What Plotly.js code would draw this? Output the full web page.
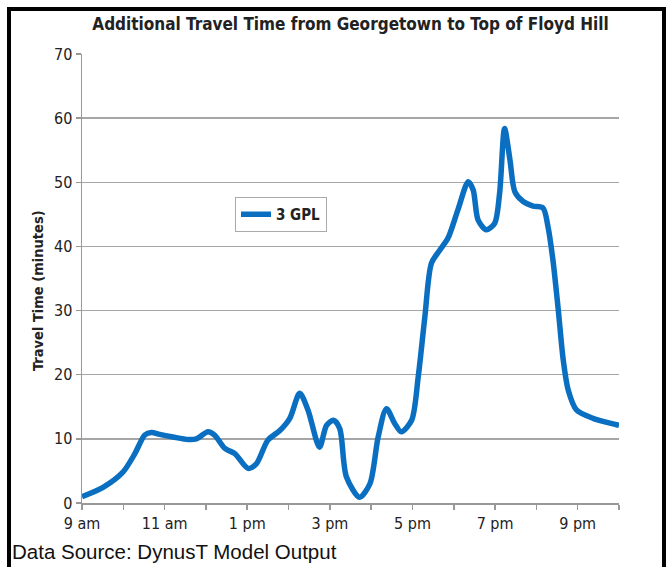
<!DOCTYPE html>
<html>
<head>
<meta charset="utf-8">
<script src="https://cdn.plot.ly/plotly-3.0.1.min.js"></script>
<style>html,body{margin:0;padding:0;background:#fff;}#chart{width:668px;height:567px;}</style>
</head>
<body>
<div id="chart"></div>
<script>
// Hour of day (decimal, 9 = 9 am, 22 = 10 pm)
const hours = [9.0, 9.5, 9.99, 10.28, 10.52, 10.68, 10.88, 11.2, 11.57, 11.77, 12.05, 12.21, 12.46, 12.7, 13.02, 13.22, 13.5, 13.79, 14.03, 14.27, 14.47, 14.75, 14.92, 15.09, 15.24, 15.4, 15.72, 15.97, 16.17, 16.37, 16.57, 16.73, 16.98, 17.14, 17.3, 17.46, 17.66, 17.86, 18.1, 18.35, 18.47, 18.59, 18.79, 18.99, 19.11, 19.23, 19.36, 19.48, 19.68, 19.92, 20.16, 20.28, 20.4, 20.53, 20.65, 20.77, 20.97, 21.37, 21.94, 22.0];
// Additional travel time (minutes), 3 GPL
const travelTime = [1.0, 2.4, 4.8, 7.7, 10.6, 11.0, 10.7, 10.3, 9.9, 10.0, 11.1, 10.6, 8.5, 7.7, 5.4, 6.1, 9.8, 11.3, 13.2, 17.1, 14.5, 8.7, 12.1, 12.9, 11.6, 4.1, 0.9, 3.0, 10.3, 14.7, 12.4, 11.1, 12.9, 19.7, 29.0, 37.4, 39.4, 41.3, 45.7, 50.1, 48.8, 44.1, 42.6, 43.6, 48.3, 58.4, 53.5, 48.5, 47.0, 46.3, 46.0, 43.1, 37.9, 30.1, 22.3, 17.6, 14.5, 13.2, 12.2, 12.1];
const tickHours = [9, 10, 11, 12, 13, 14, 15, 16, 17, 18, 19, 20, 21, 22];
const tickLabels = ['9 am', '', '11 am', '', '1 pm', '', '3 pm', '', '5 pm', '', '7 pm', '', '9 pm', ''];
const yTicks = [0, 10, 20, 30, 40, 50, 60, 70];
const seriesName = '3 GPL';

const narrow = '"DejaVu Sans Condensed", "Liberation Sans Narrow", sans-serif';

const trace = {
  x: hours, y: travelTime, type: 'scatter', mode: 'lines', name: seriesName,
  line: {color: '#0b6fc1', width: 5.5, shape: 'spline', smoothing: 0.8}
};

const L = 82, R = 49, T = 54, B = 64;
const pw = 668 - L - R, ph = 567 - T - B;
function px(x) { return (x - L) / pw; }
function py(y) { return (567 - B - y) / ph; }

const layout = {
  width: 668, height: 567,
  margin: {l: L, r: R, t: T, b: B, pad: 0},
  paper_bgcolor: '#ffffff', plot_bgcolor: '#ffffff',
  title: {
    text: '<b>Additional Travel Time from Georgetown to Top of Floyd Hill</b>',
    font: {family: narrow, size: 17, color: '#222'},
    xref: 'paper', x: 0.5, xanchor: 'center',
    yref: 'container', y: 1 - 24 / 567, yanchor: 'middle'
  },
  xaxis: {
    range: [9, 22], tickmode: 'array', tickvals: tickHours, ticktext: tickLabels,
    ticks: 'outside', ticklen: 5, tickwidth: 1.5, tickcolor: '#999',
    showline: true, linecolor: '#999', linewidth: 1.5, showgrid: false, zeroline: false,
    tickfont: {family: narrow, size: 16, color: '#222'}, fixedrange: true
  },
  yaxis: {
    range: [0, 70], tickmode: 'array', tickvals: yTicks,
    ticks: 'outside', ticklen: 5, tickwidth: 1.5, tickcolor: '#999',
    showline: true, linecolor: '#999', linewidth: 1.5,
    showgrid: true, gridcolor: '#a6a6a6', gridwidth: 1.5, zeroline: false,
    tickfont: {family: narrow, size: 16, color: '#222'}, fixedrange: true
  },
  showlegend: true,
  legend: {
    x: px(235), y: py(197), xanchor: 'left', yanchor: 'top',
    bgcolor: '#fff', bordercolor: '#aaa', borderwidth: 1,
    entrywidth: 52,
    font: {family: narrow, size: 15, color: '#222', weight: 'bold'}
  },
  annotations: [
    {text: '<b>Travel Time (minutes)</b>', textangle: -90, xref: 'paper', yref: 'paper',
     x: px(38), y: py(291), xanchor: 'center', yanchor: 'middle', showarrow: false,
     font: {family: narrow, size: 14.5, color: '#222'}},
    {text: 'Data Source: DynusT Model Output', xref: 'paper', yref: 'paper',
     x: px(10), y: py(551), xanchor: 'left', yanchor: 'middle', showarrow: false,
     font: {family: '"Liberation Sans", Arial, sans-serif', size: 20.5, color: '#111'}}
  ],
  shapes: [
    {type: 'rect', xref: 'paper', yref: 'paper', x0: px(9), x1: px(664), y0: py(9), y1: py(575),
     line: {color: '#000', width: 4}, fillcolor: 'rgba(0,0,0,0)', layer: 'above'}
  ]
};

Plotly.newPlot('chart', [trace], layout, {staticPlot: true, displayModeBar: false});
</script>
</body>
</html>
